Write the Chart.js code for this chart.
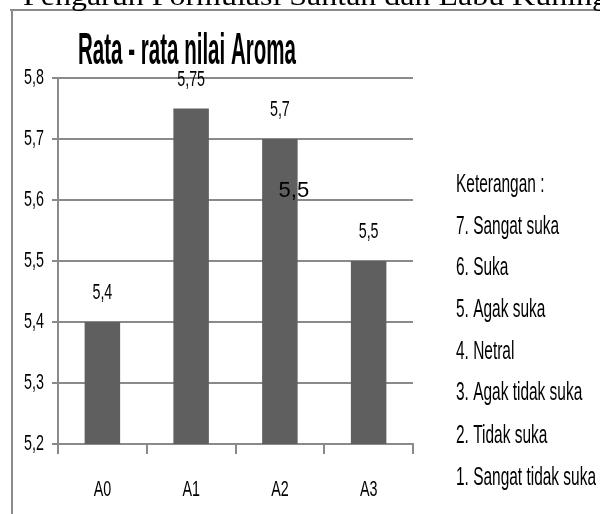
<!DOCTYPE html>
<html>
<head>
<meta charset="utf-8">
<script src="https://cdn.jsdelivr.net/npm/chart.js@4/dist/chart.umd.min.js"></script>
<style>
  body { margin: 0; background: #fff; }
  canvas { display: block; }
</style>
</head>
<body>
<canvas id="aromaChart" width="600" height="514"></canvas>
<script>
// Chart data
const categories = ['A0', 'A1', 'A2', 'A3'];
const aromaValues = [5.4, 5.75, 5.7, 5.5];
const yTicks = [5.2, 5.3, 5.4, 5.5, 5.6, 5.7, 5.8];
const legendLines = [
    'Keterangan :',
    '7. Sangat suka',
    '6. Suka',
    '5. Agak suka',
    '4. Netral',
    '3. Agak tidak suka',
    '2. Tidak suka',
    '1. Sangat tidak suka'
];
const headerText = 'Pengaruh Formulasi Santan dan Labu Kuning';
const titleText = 'Rata - rata nilai Aroma';
const strayLabel = '5,5';

const sans = '"Liberation Sans", Arial, sans-serif';
const gridGray = '#8a8a8a';
const squeeze = 0.65; // the source picture is squashed sideways

function fmt(v) {
    return String(v).replace('.', ',');
}

// text drawn with a horizontal scale factor
function squeezed(ctx, text, x, y, sx) {
    ctx.save();
    ctx.translate(x, y);
    ctx.scale(sx, 1);
    ctx.fillText(text, 0, 0);
    ctx.restore();
}

function fitText(ctx, text, x, y, width) {
    squeezed(ctx, text, x, y, width / ctx.measureText(text).width);
}

const decorPlugin = {
    id: 'decor',
    afterDraw(chart) {
        const ctx = chart.ctx;
        const xs = chart.scales.x;
        const ys = chart.scales.y;
        ctx.save();

        // page frame
        ctx.strokeStyle = gridGray;
        ctx.lineWidth = 2;
        ctx.beginPath();
        ctx.moveTo(10, 10);
        ctx.lineTo(600, 10);
        ctx.moveTo(12, 10);
        ctx.lineTo(12, 514);
        ctx.stroke();

        // cut-off document heading
        ctx.fillStyle = '#000';
        ctx.textAlign = 'left';
        ctx.textBaseline = 'alphabetic';
        ctx.font = '28px "Liberation Serif", serif';
        fitText(ctx, headerText, 23, 5, 585);

        // chart title
        ctx.font = 'bold 45px ' + sans;
        fitText(ctx, titleText, 78, 64, 218);

        ctx.font = '22px ' + sans;
        ctx.textBaseline = 'middle';

        // y tick labels
        ctx.textAlign = 'right';
        yTicks.forEach(function (v) {
            squeezed(ctx, v.toFixed(1).replace('.', ','), 44, ys.getPixelForValue(v), squeeze);
        });

        // category labels
        ctx.textAlign = 'center';
        categories.forEach(function (c, i) {
            squeezed(ctx, c, xs.getPixelForValue(i), 490, squeeze);
        });

        // value labels above the bars
        const meta = chart.getDatasetMeta(0);
        meta.data.forEach(function (bar, i) {
            squeezed(ctx, fmt(aromaValues[i]), bar.x, bar.y - 29, squeeze);
        });

        // stray text box on A2
        const a2 = meta.data[2];
        ctx.font = '22px ' + sans;
        ctx.fillText(strayLabel, a2.x + 14, ys.getPixelForValue(5.6) - 9);

        // Keterangan list
        ctx.font = '25px ' + sans;
        ctx.textAlign = 'left';
        const sx = 140 / ctx.measureText(legendLines[legendLines.length - 1]).width;
        const rows = [185, 227, 268, 310, 352, 393, 436, 478];
        legendLines.forEach(function (line, i) {
            squeezed(ctx, line, 456, rows[i], sx);
        });

        ctx.restore();
    }
};

const ctx = document.getElementById('aromaChart').getContext('2d');

const aromaChart = new Chart(ctx, {
    type: 'bar',
    data: {
        labels: categories,
        datasets: [{
            data: aromaValues,
            backgroundColor: '#5f5f5f',
            barPercentage: 0.4,
            categoryPercentage: 1
        }]
    },
    options: {
        responsive: false,
        animation: false,
        layout: {
            padding: { left: 12, top: 78, right: 187, bottom: 0 }
        },
        plugins: {
            legend: { display: false },
            tooltip: { enabled: false }
        },
        scales: {
            x: {
                offset: true,
                grid: {
                    offset: true,
                    drawOnChartArea: false,
                    color: gridGray,
                    lineWidth: 2,
                    tickLength: 10
                },
                border: { color: gridGray, width: 2 },
                ticks: { display: false },
                afterFit: function (scale) { scale.height = 70; }
            },
            y: {
                min: 5.2,
                max: 5.8,
                afterBuildTicks: function (scale) {
                    scale.ticks = yTicks.map(function (v) { return { value: v }; });
                },
                ticks: { display: false },
                grid: {
                    color: gridGray,
                    lineWidth: 2,
                    tickLength: 6
                },
                border: { color: gridGray, width: 2 },
                afterFit: function (scale) { scale.width = 46; }
            }
        }
    },
    plugins: [decorPlugin]
});
</script>
</body>
</html>
